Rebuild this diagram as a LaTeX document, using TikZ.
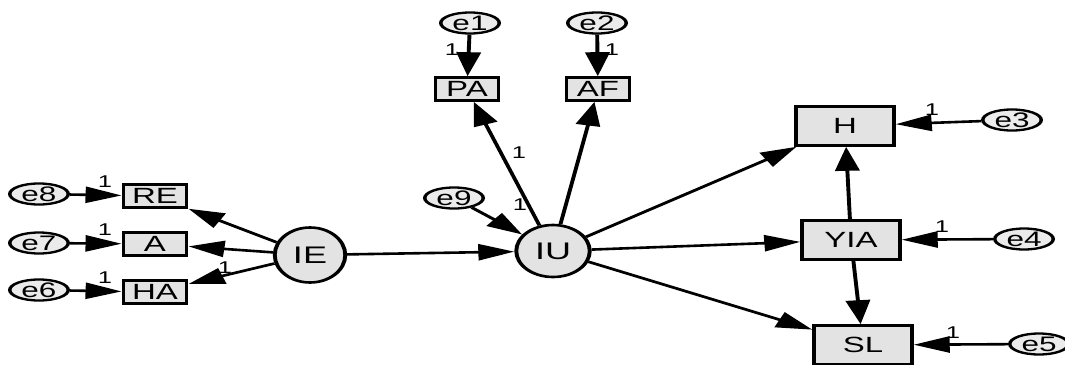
\documentclass[tikz,border=0pt]{standalone}
\usepackage{fontspec}
\setmainfont{Liberation Sans}
\usetikzlibrary{arrows.meta,shapes.geometric}
\definecolor{boxfill}{HTML}{E3E3E3}
\definecolor{errfill}{HTML}{EBEBEB}
\tikzset{
  obs/.style={draw, line width=2.6pt, fill=boxfill, rectangle, inner sep=0pt, font=\fontsize{22}{22}\selectfont},
  smallbox/.style={obs, minimum width=42pt, minimum height=23pt},
  bigbox/.style={obs, minimum width=65pt, minimum height=39pt},
  err/.style={draw, ellipse, line width=2.3pt, fill=errfill, inner sep=0pt, minimum width=39pt, minimum height=21pt, font=\fontsize{21}{21}\selectfont},
  lat/.style={draw, ellipse, line width=2.6pt, fill=boxfill, inner sep=0pt, font=\fontsize{24}{24}\selectfont},
  arr/.style={line width=2.6pt, -{Triangle[length=24pt,width=16pt]}},
  one/.style={font=\fontsize{17}{17}\selectfont, inner sep=0pt}
}
\begin{document}
\begin{tikzpicture}
\fill[white] (0,0) rectangle (1065pt,-364pt);
\useasboundingbox (0,0) rectangle (1065pt,-364pt);
\begin{scope}[transform canvas={xscale=1.5}, x=0.666667pt, y=-1pt]
  % error terms
  \node[err] (e8) at (39,194) {e8};
  \node[err] (e7) at (39,243) {e7};
  \node[err] (e6) at (39,290) {e6};
  \node[err] (e1) at (470,23) {e1};
  \node[err] (e2) at (597,23) {e2};
  \node[err] (e9) at (454,198) {e9};
  \node[err] (e3) at (1012,120) {e3};
  \node[err] (e4) at (1024,239) {e4};
  \node[err] (e5) at (1039,344) {e5};
  % observed
  \node[smallbox] (RE) at (155,196) {RE};
  \node[smallbox] (A)  at (155,244) {A};
  \node[smallbox] (HA) at (155,292) {HA};
  \node[smallbox] (PA) at (467,89) {PA};
  \node[smallbox] (AF) at (598,89) {AF};
  \node[bigbox] (H)   at (845,126) {H};
  \node[bigbox] (YIA) at (851,240) {YIA};
  \node[bigbox] (SL)  at (863,345) {SL};
  % latent
  \node[lat, minimum width=47pt, minimum height=55pt] (IE) at (310,255) {IE};
  \node[lat, minimum width=49pt, minimum height=52pt] (IU) at (553,251) {IU};
  % connectors
  \draw[arr] (e8) -- (RE);
  \draw[arr] (e7) -- (A);
  \draw[arr] (e6) -- (HA);
  \draw[arr] (IE) -- (RE);
  \draw[arr] (IE) -- (A);
  \draw[arr] (IE) -- (HA);
  \draw[arr] (IE) -- (IU);
  \draw[arr] (e9) -- (IU);
  \draw[arr] (e1) -- (PA);
  \draw[arr] (e2) -- (AF);
  \draw[arr] (IU) -- (PA);
  \draw[arr] (IU) -- (AF);
  \draw[arr] (IU) -- (H);
  \draw[arr] (IU) -- (YIA);
  \draw[arr] (IU) -- (SL);
  \draw[arr] (YIA) -- (H);
  \draw[arr] (YIA) -- (SL);
  \draw[arr] (e3) -- (H);
  \draw[arr] (e4) -- (YIA);
  \draw[arr] (e5) -- (SL);
  % labels
  \node[one] (l8) at (105,182) {1};
  \node[one] (l7) at (105,230) {1};
  \node[one] (l6) at (105,278) {1};
  \node[one] (lha) at (225,268) {1};
  \node[one] (l1) at (452,50) {1};
  \node[one] (l2) at (612,50) {1};
  \node[one] (lpa) at (519,153) {1};
  \node[one] (l9) at (520,205) {1};
  \node[one] (l3) at (932,110) {1};
  \node[one] (l4) at (942,227) {1};
  \node[one] (l5) at (953,333) {1};
\end{scope}
\end{tikzpicture}
\end{document}
